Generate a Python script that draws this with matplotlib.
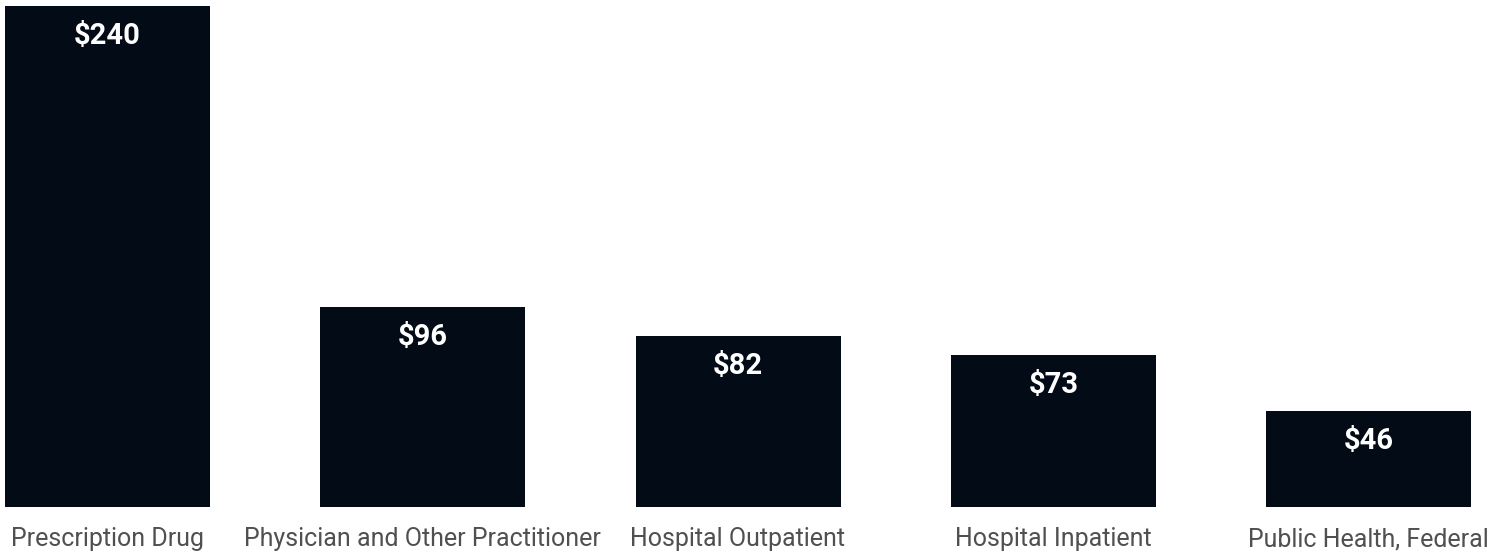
import matplotlib.pyplot as plt
import numpy as np

categories = ["Prescription Drug", "Physician and Other Practitioner",
              "Hospital Outpatient", "Hospital Inpatient", "Public Health, Federal"]
values = [240, 96, 82, 73, 46]
value_labels = ["$240", "$96", "$82", "$73", "$46"]

plt.rcParams['font.family'] = ['Roboto', 'DejaVu Sans']

W, H = 1504, 556
fig = plt.figure(figsize=(W / 100, H / 100), dpi=100)
# axes spans the full width; bar area from y=507px (bottom) up to y=6px (top of tallest bar)
ax = fig.add_axes([0, (H - 507) / H, 1, 501 / H])

pitch = 315.25
first_center = 107.5
x = np.arange(len(categories))
ax.bar(x, values, width=205 / pitch, color="#020b16")
ax.set_xlim(-first_center / pitch, (W - first_center) / pitch)
ax.set_ylim(0, 240)

for xi, v, lab in zip(x, values, value_labels):
    ax.annotate(lab, (xi, v), xytext=(0, -30 * 0.72), textcoords="offset points",
                ha="center", va="center", color="white", fontsize=21, fontweight="bold")

ax.set_xticks(x)
ax.set_xticklabels(categories, fontsize=18, color="#505050")
ax.tick_params(axis="x", length=0, pad=14.5)
ax.set_yticks([])
for s in ax.spines.values():
    s.set_visible(False)

fig.savefig("out.png", dpi=100)
